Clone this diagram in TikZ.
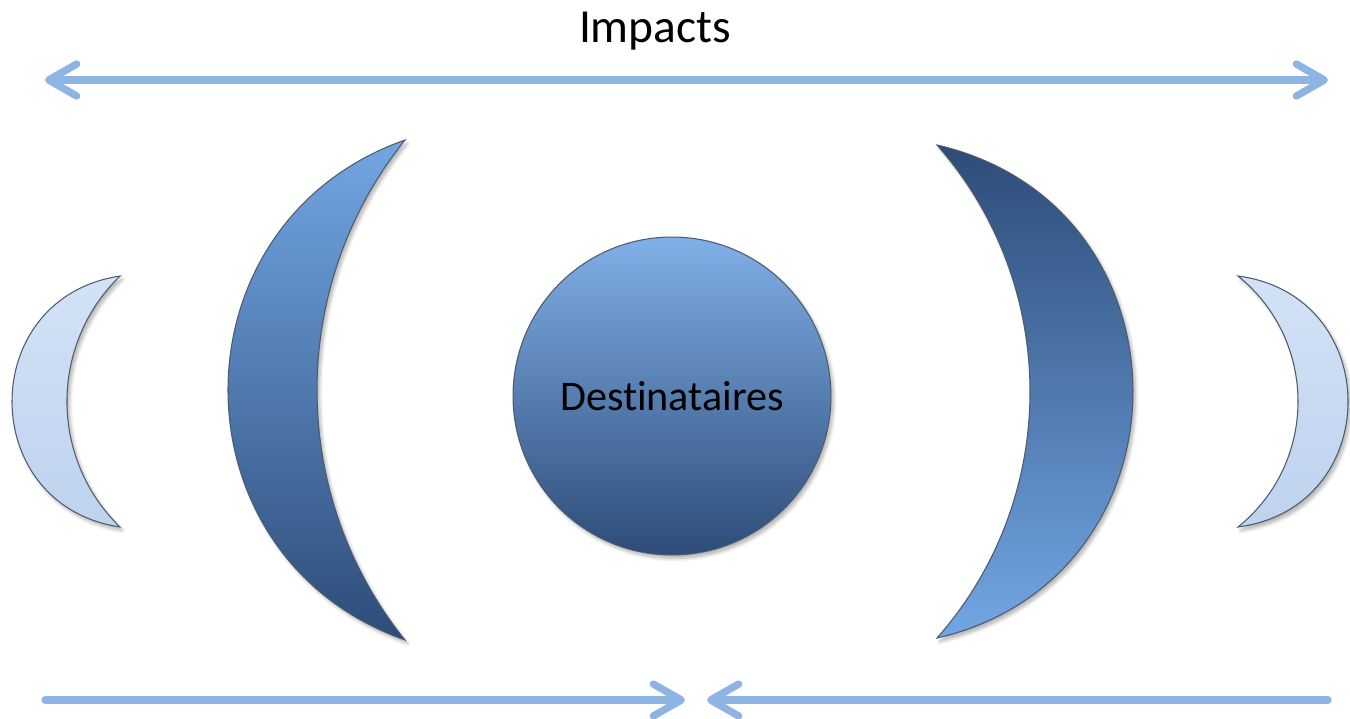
\documentclass[tikz,border=0pt]{standalone}
\usepackage{fontspec}
\setmainfont{Carlito}[Ligatures=NoCommon]
\usetikzlibrary{arrows.meta,shadows.blur}

\definecolor{arrowblue}{HTML}{8EB4E3}
\definecolor{paletop}{HTML}{D3E2F6}
\definecolor{palebot}{HTML}{BED2EE}
\definecolor{bluelight}{HTML}{72A6E4}
\definecolor{bluedark}{HTML}{2D4C78}
\definecolor{rimgray}{HTML}{4E5B6B}

\tikzset{
  barb/.tip={Straight Barb[length=0.56cm, width=0.64cm, round]},
  flow/.style={draw=arrowblue, line width=4.2pt, line cap=round, -barb},
  flowboth/.style={flow, barb-barb},
  rim/.style={draw=rimgray, line width=0.6pt,
    blur shadow={shadow xshift=1.5pt, shadow yshift=-2pt, shadow opacity=30, shadow blur steps=6}},
  palemoon/.style={rim, top color=paletop, bottom color=palebot},
  moondown/.style={rim, top color=bluelight, bottom color=bluedark},
  moonup/.style={rim, top color=bluedark, bottom color=bluelight},
  title/.style={font=\fontsize{27}{32}\selectfont, text=black},
  hub/.style={circle, rim, top color=bluelight!90!white, bottom color=bluedark,
    minimum size=6.36cm, inner sep=0pt, font=\fontsize{24}{28}\selectfont, text=black}
}

\begin{document}
\begin{tikzpicture}[x=0.02cm, y=-0.02cm]
  \useasboundingbox (0,0) rectangle (1350,718);

  % heading and arrow ends
  \node[title] (impacts) at (655,31) {Impacts};
  \coordinate (topL) at (45,80);
  \coordinate (topR) at (1328,80);
  \coordinate (botL) at (45,700);
  \coordinate (botLtip) at (685,700);
  \coordinate (botR) at (1328,700);
  \coordinate (botRtip) at (707,700);

  % crescents, left to right
  \path[palemoon] (120,276) .. controls (-24,297.7) and (-24,505.3) .. (120,527)
                            .. controls (49.3,458.3) and (49.3,344.7) .. cycle;
  \path[moondown] (405,140) .. controls (169,223.1) and (169,556.9) .. (405,640)
                            .. controls (287.7,494) and (287.7,286) .. cycle;
  \path[moonup]   (937,145) .. controls (1198.3,205.4) and (1198.3,577.6) .. (937,638)
                            .. controls (1061,497.5) and (1061,286) .. cycle;
  \path[palemoon] (1238,276) .. controls (1384.7,295.4) and (1384.7,507.6) .. (1238,527)
                             .. controls (1318,462.5) and (1318,340.5) .. cycle;

  % central disc
  \node[hub] (dest) at (672,396) {Destinataires};

  % arrows
  \draw[flowboth] (topL) -- (topR);
  \draw[flow] (botL) -- (botLtip);
  \draw[flow] (botR) -- (botRtip);
\end{tikzpicture}
\end{document}
